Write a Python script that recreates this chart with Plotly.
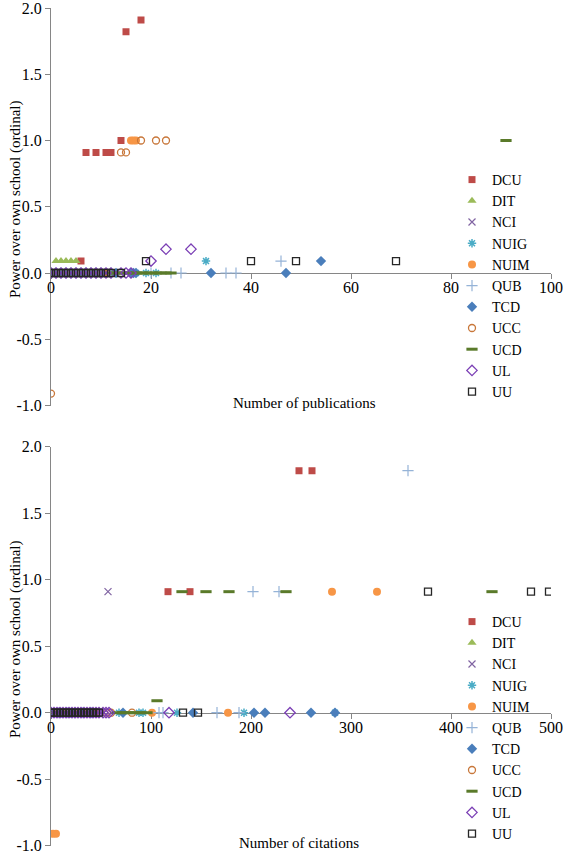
import plotly.graph_objects as go

W, H = 563, 853


def fx(px):
    return min(1.0, max(0.0, px / W))


def fy(py):
    return min(1.0, max(0.0, 1 - py / H))


series_names = ["DCU", "DIT", "NCI", "NUIG", "NUIM", "QUB", "TCD", "UCC", "UCD", "UL", "UU"]

# ---------- Top chart: number of publications ----------
pub_DCU_x = [15, 18, 7, 9, 11, 12, 14, 6, 0, 1, 2, 3, 4, 5, 6, 7, 8, 9, 10, 11, 12]
pub_DCU_y = [1.82, 1.91, 0.91, 0.91, 0.91, 0.91, 1.0, 0.09, 0, 0, 0, 0, 0, 0, 0, 0, 0, 0, 0, 0, 0]
pub_DIT_x = [1, 2, 3, 4, 5, 0, 1, 2, 3, 4, 5, 6, 7, 8, 9, 10]
pub_DIT_y = [0.09, 0.09, 0.09, 0.09, 0.09, 0, 0, 0, 0, 0, 0, 0, 0, 0, 0, 0]
pub_NCI_x = [0, 1, 2, 3, 4, 5, 6, 7, 8, 9, 10]
pub_NCI_y = [0, 0, 0, 0, 0, 0, 0, 0, 0, 0, 0]
pub_NUIG_x = [31, 0, 1, 2, 3, 4, 5, 6, 7, 8, 9, 10, 12, 17, 19, 21]
pub_NUIG_y = [0.09, 0, 0, 0, 0, 0, 0, 0, 0, 0, 0, 0, 0, 0, 0, 0]
pub_NUIM_x = [16, 16.5, 17, 0, 1, 2, 3, 4, 5, 6, 7, 8, 9, 11]
pub_NUIM_y = [1.0, 1.0, 1.0, 0, 0, 0, 0, 0, 0, 0, 0, 0, 0, 0]
pub_QUB_x = [46, 0, 1, 2, 3, 4, 5, 6, 7, 8, 9, 10, 12, 20, 24, 26, 35, 37]
pub_QUB_y = [0.09, 0, 0, 0, 0, 0, 0, 0, 0, 0, 0, 0, 0, 0, 0, 0, 0, 0]
pub_TCD_x = [54, 0, 1, 2, 3, 4, 5, 6, 7, 8, 9, 10, 13, 16, 16.5, 17, 32, 47]
pub_TCD_y = [0.09, 0, 0, 0, 0, 0, 0, 0, 0, 0, 0, 0, 0, 0, 0, 0, 0, 0]
pub_UCC_x = [18, 21, 23, 14, 15, 0, 0, 1, 2, 3, 4, 5, 6, 7, 8, 9, 10]
pub_UCC_y = [1.0, 1.0, 1.0, 0.91, 0.91, -0.91, 0, 0, 0, 0, 0, 0, 0, 0, 0, 0, 0]
pub_UCD_x = [91, 12, 13, 14, 15, 16, 17, 18, 19, 20, 21, 22, 23, 24]
pub_UCD_y = [1.0, 0, 0, 0, 0, 0, 0, 0, 0, 0, 0, 0, 0, 0]
pub_UL_x = [20, 23, 28, 0, 1, 2, 3, 4, 5, 6, 7, 8, 9, 10, 11, 12, 14, 15, 16]
pub_UL_y = [0.09, 0.18, 0.18, 0, 0, 0, 0, 0, 0, 0, 0, 0, 0, 0, 0, 0, 0, 0, 0]
pub_UU_x = [19, 40, 49, 69, 0, 1, 2, 3, 4, 5, 6, 7, 8, 9, 10, 11, 12, 14]
pub_UU_y = [0.09, 0.09, 0.09, 0.09, 0, 0, 0, 0, 0, 0, 0, 0, 0, 0, 0, 0, 0, 0]

# ---------- Bottom chart: number of citations ----------
cit_DCU_x = [248, 261, 117, 139, 0, 4, 8, 12, 16, 20, 24, 28, 32, 36, 40, 44]
cit_DCU_y = [1.82, 1.82, 0.91, 0.91, 0, 0, 0, 0, 0, 0, 0, 0, 0, 0, 0, 0]
cit_DIT_x = [0, 3, 6, 9, 12, 15, 18, 21]
cit_DIT_y = [0, 0, 0, 0, 0, 0, 0, 0]
cit_NCI_x = [57, 0, 5, 10, 15, 20, 25, 30, 53]
cit_NCI_y = [0.91, 0, 0, 0, 0, 0, 0, 0, 0]
cit_NUIG_x = [0, 6, 12, 18, 24, 30, 36, 68, 88, 92, 126, 193, 284]
cit_NUIG_y = [0, 0, 0, 0, 0, 0, 0, 0, 0, 0, 0, 0, 0]
cit_NUIM_x = [281, 326, 2, 5, 0, 7, 14, 21, 28, 35, 101, 177]
cit_NUIM_y = [0.91, 0.91, -0.91, -0.91, 0, 0, 0, 0, 0, 0, 0, 0]
cit_QUB_x = [357, 202, 228, 0, 8, 16, 24, 32, 40, 108, 112, 166, 188]
cit_QUB_y = [1.82, 0.91, 0.91, 0, 0, 0, 0, 0, 0, 0, 0, 0, 0]
cit_TCD_x = [0, 10, 20, 30, 40, 72, 142, 203, 214, 260, 284]
cit_TCD_y = [0, 0, 0, 0, 0, 0, 0, 0, 0, 0, 0]
cit_UCC_x = [0, 9, 18, 27, 36, 45, 56, 60, 81]
cit_UCC_y = [0, 0, 0, 0, 0, 0, 0, 0, 0]
cit_UCD_x = [131, 155, 178, 235, 441, 106, 0, 12, 24, 36, 66, 72, 78, 84, 90, 96]
cit_UCD_y = [0.91, 0.91, 0.91, 0.91, 0.91, 0.09, 0, 0, 0, 0, 0, 0, 0, 0, 0, 0]
cit_UL_x = [0, 3, 6, 9, 12, 15, 18, 21, 24, 27, 30, 33, 36, 39, 42, 45, 48, 52, 55, 58, 118, 239]
cit_UL_y = [0] * 22
cit_UU_x = [377, 480, 498, 0, 3, 6, 9, 12, 15, 18, 21, 24, 27, 30, 33, 36, 39, 42, 45, 48, 132, 147]
cit_UU_y = [0.91, 0.91, 0.91] + [0] * 19

pub_data = {
    "DCU": (pub_DCU_x, pub_DCU_y), "DIT": (pub_DIT_x, pub_DIT_y), "NCI": (pub_NCI_x, pub_NCI_y),
    "NUIG": (pub_NUIG_x, pub_NUIG_y), "NUIM": (pub_NUIM_x, pub_NUIM_y), "QUB": (pub_QUB_x, pub_QUB_y),
    "TCD": (pub_TCD_x, pub_TCD_y), "UCC": (pub_UCC_x, pub_UCC_y), "UCD": (pub_UCD_x, pub_UCD_y),
    "UL": (pub_UL_x, pub_UL_y), "UU": (pub_UU_x, pub_UU_y),
}
cit_data = {
    "DCU": (cit_DCU_x, cit_DCU_y), "DIT": (cit_DIT_x, cit_DIT_y), "NCI": (cit_NCI_x, cit_NCI_y),
    "NUIG": (cit_NUIG_x, cit_NUIG_y), "NUIM": (cit_NUIM_x, cit_NUIM_y), "QUB": (cit_QUB_x, cit_QUB_y),
    "TCD": (cit_TCD_x, cit_TCD_y), "UCC": (cit_UCC_x, cit_UCC_y), "UCD": (cit_UCD_x, cit_UCD_y),
    "UL": (cit_UL_x, cit_UL_y), "UU": (cit_UU_x, cit_UU_y),
}

y_tick_vals = [2.0, 1.5, 1.0, 0.5, 0.0, -0.5, -1.0]
y_tick_text = ["2.0", "1.5", "1.0", "0.5", "0.0", "-0.5", "-1.0"]
pub_tick_vals = [0, 20, 40, 60, 80, 100]
cit_tick_vals = [0, 100, 200, 300, 400, 500]

styles = {
    "DCU": dict(symbol="square", size=7, color="#BE4B48", line=dict(width=0)),
    "DIT": dict(symbol="triangle-up", size=8, color="#9BBB59", line=dict(width=0)),
    "NCI": dict(symbol="x-thin", size=7, color="#8064A2", line=dict(width=1.2, color="#8064A2")),
    "NUIG": dict(symbol="asterisk", size=7, color="#4BACC6", line=dict(width=1.5, color="#4BACC6")),
    "NUIM": dict(symbol="circle", size=8, color="#F79646", line=dict(width=0)),
    "QUB": dict(symbol="cross-thin", size=8, color="#95B3D7", line=dict(width=1.2, color="#95B3D7")),
    "TCD": dict(symbol="diamond", size=8, color="#4A7EBB", line=dict(width=0)),
    "UCC": dict(symbol="circle-open", size=7, color="#C8773A", line=dict(width=1.3, color="#C8773A")),
    "UCD": dict(symbol="line-ew", size=8, color="#5A7A2A", line=dict(width=3, color="#5A7A2A")),
    "UL": dict(symbol="diamond-open", size=8, color="#7B3FB5", line=dict(width=1.3, color="#7B3FB5")),
    "UU": dict(symbol="square-open", size=7, color="#262626", line=dict(width=1.3, color="#262626")),
}

FONT = "Liberation Serif"
fig = go.Figure()

for name in series_names:
    xs, ys = pub_data[name]
    fig.add_trace(go.Scatter(x=xs, y=ys, mode="markers", name=name, marker=styles[name],
                             xaxis="x", yaxis="y", legend="legend"))
for name in series_names:
    xs, ys = cit_data[name]
    fig.add_trace(go.Scatter(x=xs, y=ys, mode="markers", name=name, marker=styles[name],
                             xaxis="x2", yaxis="y2", legend="legend2"))

xdom = [fx(51), fx(551)]
ydom1 = [fy(405.5), fy(8)]
ydom2 = [fy(845.7), fy(446.7)]
zero1 = ydom1[0] + (ydom1[1] - ydom1[0]) / 3
zero2 = ydom2[0] + (ydom2[1] - ydom2[0]) / 3

axcol = "#868686"
common_x = dict(showline=True, linecolor=axcol, linewidth=1, ticks="outside", ticklen=5,
                tickcolor=axcol, showgrid=False, zeroline=False, anchor="free", automargin=False,
                ticklabeloverflow="allow", ticklabelstandoff=-5,
                tickfont=dict(family=FONT, size=16, color="black"), layer="below traces")
common_y = dict(showline=True, linecolor=axcol, linewidth=1, ticks="outside", ticklen=5,
                tickcolor=axcol, showgrid=False, zeroline=False, range=[-1, 2], automargin=False,
                tickvals=y_tick_vals, ticktext=y_tick_text, ticklabeloverflow="allow",
                tickfont=dict(family=FONT, size=16, color="black"), layer="below traces")

TEXT_X = 492
fig.update_layout(
    width=W, height=H, margin=dict(l=0, r=0, t=0, b=0, autoexpand=False),
    paper_bgcolor="white", plot_bgcolor="white",
    font=dict(family=FONT, size=15, color="black"),
    xaxis=dict(domain=xdom, range=[0, 100], tickvals=pub_tick_vals, position=zero1, **common_x),
    yaxis=dict(domain=ydom1, anchor="x", **common_y),
    xaxis2=dict(domain=xdom, range=[0, 500], tickvals=cit_tick_vals, position=zero2, **common_x),
    yaxis2=dict(domain=ydom2, anchor="x2", **common_y),
    legend=dict(x=fx(TEXT_X - 40), xanchor="left", y=fy(180 - 16), yanchor="top",
                font=dict(family=FONT, size=14, color="black"), bgcolor="rgba(0,0,0,0)",
                borderwidth=0, tracegroupgap=0),
    legend2=dict(x=fx(TEXT_X - 40), xanchor="left", y=fy(621 - 15), yanchor="top",
                 font=dict(family=FONT, size=14, color="black"), bgcolor="rgba(0,0,0,0)",
                 borderwidth=0, tracegroupgap=0),
    showlegend=True,
)

annotations = [
    dict(text="Number of publications", x=fx(304), y=fy(403)),
    dict(text="Number of citations", x=fx(299), y=fy(843)),
    dict(text="Power over own school (ordinal)", x=fx(15), y=fy(200), textangle=-90),
    dict(text="Power over own school (ordinal)", x=fx(15), y=fy(640), textangle=-90),
]
for a in annotations:
    fig.add_annotation(xref="paper", yref="paper", showarrow=False, xanchor="center", yanchor="middle",
                       font=dict(family=FONT, size=15, color="black"), **a)

# The page's default 8 px body margin would push the fixed-size figure off the window.
fig.write_html("out.html", config={"displayModeBar": False},
               post_script="document.body.style.margin='0px';")
